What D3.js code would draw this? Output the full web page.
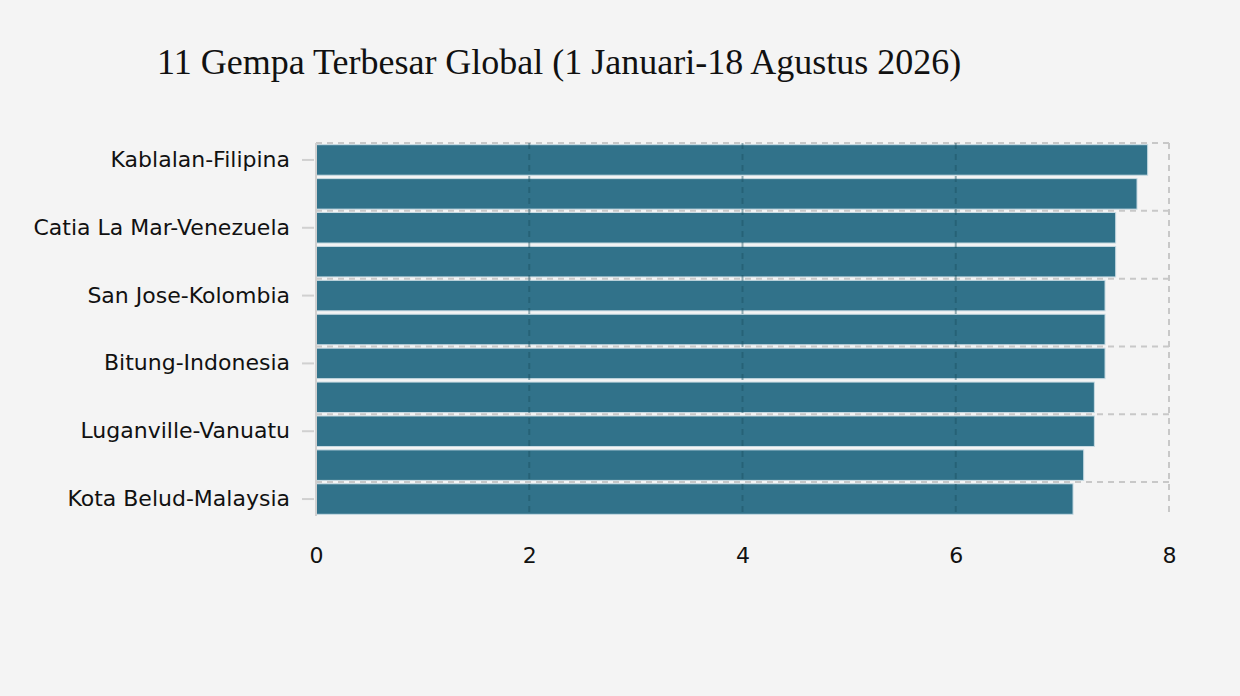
<!DOCTYPE html>
<html>
<head>
<meta charset="utf-8">
<script src="https://cdn.jsdelivr.net/npm/d3@7"></script>
<style>
  body { margin: 0; background: #f4f4f4; }
  svg { display: block; }
  .lbl { font-family: "DejaVu Sans", Verdana, sans-serif; }
</style>
</head>
<body>
<svg id="chart" width="1240" height="696"></svg>
<script>
// data (unlabelled rows keep a neutral name)
const places = [
  "Kablalan-Filipina", "Gempa ke-2",
  "Catia La Mar-Venezuela", "Gempa ke-4",
  "San Jose-Kolombia", "Gempa ke-6",
  "Bitung-Indonesia", "Gempa ke-8",
  "Luganville-Vanuatu", "Gempa ke-10",
  "Kota Belud-Malaysia"
];
const magnitudes = [7.8, 7.7, 7.5, 7.5, 7.4, 7.4, 7.4, 7.3, 7.3, 7.2, 7.1];
const xTicks = [0, 2, 4, 6, 8];

(function () {
  const svg = d3.select("#chart");
  const margin = { top: 143, left: 316, right: 71, bottom: 180 };
  const width = 1240 - margin.left - margin.right;
  const height = 696 - margin.top - margin.bottom;

  svg.append("text")
    .attr("x", 157)
    .attr("y", 74)
    .style("font-family", "'Liberation Serif', 'Times New Roman', serif")
    .style("font-size", "36px")
    .attr("fill", "#111")
    .text("11 Gempa Terbesar Global (1 Januari-18 Agustus 2026)");

  const g = svg.append("g").attr("transform", `translate(${margin.left},${margin.top})`);

  const x = d3.scaleLinear().domain([0, 8]).range([0, width]);
  const y = d3.scaleBand().domain(places).range([0, height]).paddingInner(0.1).paddingOuter(0.05);

  const data = places.map((p, i) => ({ place: p, mag: magnitudes[i] }));

  g.append("g")
    .selectAll("rect")
    .data(data)
    .join("rect")
    .attr("x", 0)
    .attr("y", (d) => y(d.place))
    .attr("width", (d) => x(d.mag))
    .attr("height", y.bandwidth())
    .attr("fill", "#31728a")
    .attr("stroke", "#c8dbe3")
    .attr("stroke-width", 1);

  // horizontal grid at top of every labelled row
  const labelled = places.filter((p, i) => i % 2 === 0);
  const step = y.step();
  g.append("g")
    .selectAll("line")
    .data(labelled)
    .join("line")
    .attr("x1", 0)
    .attr("x2", width)
    .attr("y1", (d) => y(d) - (step - y.bandwidth()) / 2)
    .attr("y2", (d) => y(d) - (step - y.bandwidth()) / 2)
    .attr("stroke", "#c8c8c8")
    .attr("stroke-width", 2)
    .attr("stroke-dasharray", "6,5");

  // vertical grid
  g.append("g")
    .selectAll("line")
    .data(xTicks.slice(1, -1))
    .join("line")
    .attr("x1", (d) => x(d))
    .attr("x2", (d) => x(d))
    .attr("y1", 0)
    .attr("y2", height)
    .attr("stroke", "#1b4f5f")
    .attr("stroke-opacity", 0.45)
    .attr("stroke-width", 2)
    .attr("stroke-dasharray", "6,5");
  g.selectAll(".vgrid")
    .data(xTicks.slice(-1))
    .join("line")
    .attr("class", "vgrid")
    .attr("x1", (d) => x(d))
    .attr("x2", (d) => x(d))
    .attr("y1", 0)
    .attr("y2", height)
    .attr("stroke", "#c8c8c8")
    .attr("stroke-width", 2)
    .attr("stroke-dasharray", "6,5");

  // y axis
  const yAxis = g.append("g")
    .call(d3.axisLeft(y).tickValues(labelled).tickSize(12).tickPadding(10));
  yAxis.select(".domain").attr("stroke", "#d0d0d0").attr("stroke-width", 2).attr("d", `M0,0V${height}`);
  yAxis.selectAll(".tick line").attr("stroke", "#d0d0d0").attr("stroke-width", 2).attr("x1", -2);
  yAxis.selectAll(".tick line").attr("x2", -14);
  yAxis.selectAll("text")
    .attr("class", "lbl")
    .style("font-size", "22px")
    .attr("fill", "#111")
    .attr("x", -26);

  // x axis
  const xAxis = g.append("g")
    .attr("transform", `translate(0,${height})`)
    .call(d3.axisBottom(x).tickValues(xTicks).tickSize(0).tickPadding(31));
  xAxis.select(".domain").remove();
  xAxis.selectAll("text")
    .attr("class", "lbl")
    .style("font-size", "22px")
    .attr("fill", "#111");
})();
</script>
</body>
</html>
